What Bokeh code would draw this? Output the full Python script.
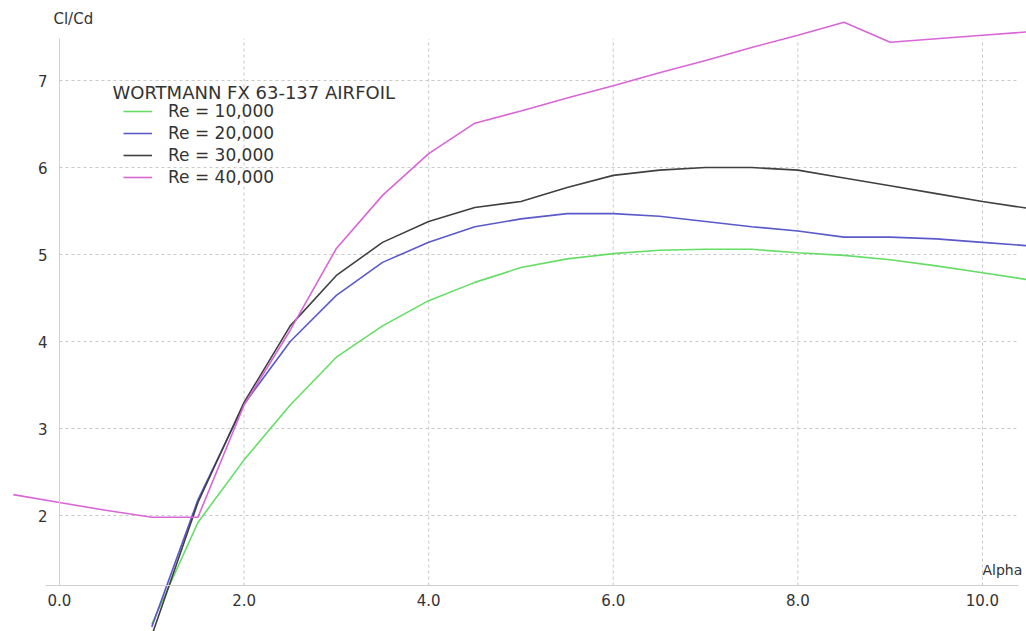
from bokeh.plotting import figure
from bokeh.models import LinearAxis, FixedTicker, PrintfTickFormatter, Label, Range1d
from bokeh.embed import file_html
from bokeh.resources import INLINE

# ---- data ----
alpha = [1.0, 1.5, 2.0, 2.5, 3.0, 3.5, 4.0, 4.5, 5.0, 5.5,
         6.0, 6.5, 7.0, 7.5, 8.0, 8.5, 9.0, 9.5, 10.0, 10.5]
re10k = [0.75, 1.92, 2.64, 3.27, 3.82, 4.18, 4.47, 4.68, 4.85, 4.95,
         5.01, 5.05, 5.06, 5.06, 5.02, 4.99, 4.94, 4.87, 4.79, 4.71]
re20k = [0.72, 2.18, 3.28, 4.00, 4.53, 4.91, 5.14, 5.32, 5.41, 5.47,
         5.47, 5.44, 5.38, 5.32, 5.27, 5.20, 5.20, 5.18, 5.14, 5.10]
re30k = [0.62, 2.15, 3.30, 4.18, 4.76, 5.14, 5.38, 5.54, 5.61, 5.77,
         5.91, 5.97, 6.00, 6.00, 5.97, 5.88, 5.79, 5.70, 5.61, 5.53]
alpha40 = [-0.5, 0.0, 0.5, 1.0, 1.5, 2.0, 2.5, 3.0, 3.5, 4.0, 4.5, 5.0, 5.5,
           6.0, 6.5, 7.0, 7.5, 8.0, 8.5, 9.0, 9.5, 10.0, 10.5]
re40k = [2.24, 2.15, 2.06, 1.98, 1.98, 3.27, 4.13, 5.07, 5.68, 6.16, 6.51, 6.65, 6.80,
         6.94, 7.09, 7.23, 7.38, 7.52, 7.67, 7.44, 7.48, 7.52, 7.56]

series_labels = ["Re = 10,000", "Re = 20,000", "Re = 30,000", "Re = 40,000"]
series_colors = ["#66dd66", "#5a5ac8", "#404040", "#d966d6"]
chart_title = "WORTMANN FX 63-137 AIRFOIL"
x_ticks = [0, 2, 4, 6, 8, 10]
y_ticks = [2, 3, 4, 5, 6, 7]

# ---- figure ----
X0, X1 = -0.639, 10.477
Y0, Y1 = 0.667, 7.92
AX_Y = 1.195      # where the x axis sits
AX_TOP = 7.48     # top of y axis
AX_LEFT = -0.15
AX_RIGHT = 10.39

p = figure(width=1026, height=631, x_range=Range1d(X0, X1), y_range=Range1d(Y0, Y1),
           x_axis_type=None, y_axis_type=None, output_backend="svg",
           toolbar_location=None, min_border=0)
p.outline_line_color = None
p.background_fill_color = "white"

FONT = "DejaVu Sans"
TXT = "#333333"
GRID = "#c8c8c8"

# grid lines (dashed), bounded by the axes
p.segment(x0=x_ticks[1:], y0=[AX_Y] * (len(x_ticks) - 1), x1=x_ticks[1:], y1=[AX_TOP] * (len(x_ticks) - 1),
          line_color=GRID, line_width=1, line_dash="3 3")
p.segment(x0=[0] * len(y_ticks), y0=y_ticks, x1=[AX_RIGHT] * len(y_ticks), y1=y_ticks,
          line_color=GRID, line_width=1, line_dash="3 3")

# axes pinned inside the frame
xaxis = LinearAxis(fixed_location=AX_Y, bounds=(AX_LEFT, AX_RIGHT),
                   ticker=FixedTicker(ticks=x_ticks, minor_ticks=[]),
                   formatter=PrintfTickFormatter(format="%.1f"))
yaxis = LinearAxis(fixed_location=0, bounds=(AX_Y, AX_TOP),
                   ticker=FixedTicker(ticks=y_ticks, minor_ticks=[]))
for ax in (xaxis, yaxis):
    ax.axis_line_color = "#d0d0d0"
    ax.axis_line_width = 1
    ax.major_tick_line_color = None
    ax.minor_tick_line_color = None
    ax.major_tick_out = 0
    ax.major_tick_in = 0
    ax.minor_tick_out = 0
    ax.major_label_text_font = FONT
    ax.major_label_text_font_size = "15px"
    ax.major_label_text_color = TXT
xaxis.major_label_standoff = 8
yaxis.major_label_standoff = 12
p.add_layout(xaxis, "below")
p.add_layout(yaxis, "left")

# series
xs = [alpha, alpha, alpha, alpha40]
ys = [re10k, re20k, re30k, re40k]
for x, y, c, lab in zip(xs, ys, series_colors, series_labels):
    p.line(x, y, line_color=c, line_width=1.6, legend_label=lab)

lg = p.legend[0]
lg.location = (123, 444)
lg.border_line_color = None
lg.background_fill_alpha = 0
lg.label_text_font = FONT
lg.label_text_font_size = "17px"
lg.label_text_color = TXT
lg.glyph_width = 29
lg.glyph_height = 20
lg.label_height = 20
lg.label_standoff = 16
lg.spacing = 2
lg.padding = 0
lg.margin = 0

# texts
p.add_layout(Label(x=0.574, y=6.862, text=chart_title, text_font=FONT, text_font_size="18px",
                   text_color=TXT, text_baseline="middle", text_align="left"))
p.add_layout(Label(x=-0.065, y=7.71, text="Cl/Cd", text_font=FONT, text_font_size="15px",
                   text_color=TXT, text_baseline="middle", text_align="left"))
p.add_layout(Label(x=10.0, y=1.379, text="Alpha", text_font=FONT, text_font_size="14px",
                   text_color=TXT, text_baseline="middle", text_align="left"))

open("out.html", "w").write(file_html(p, INLINE))
